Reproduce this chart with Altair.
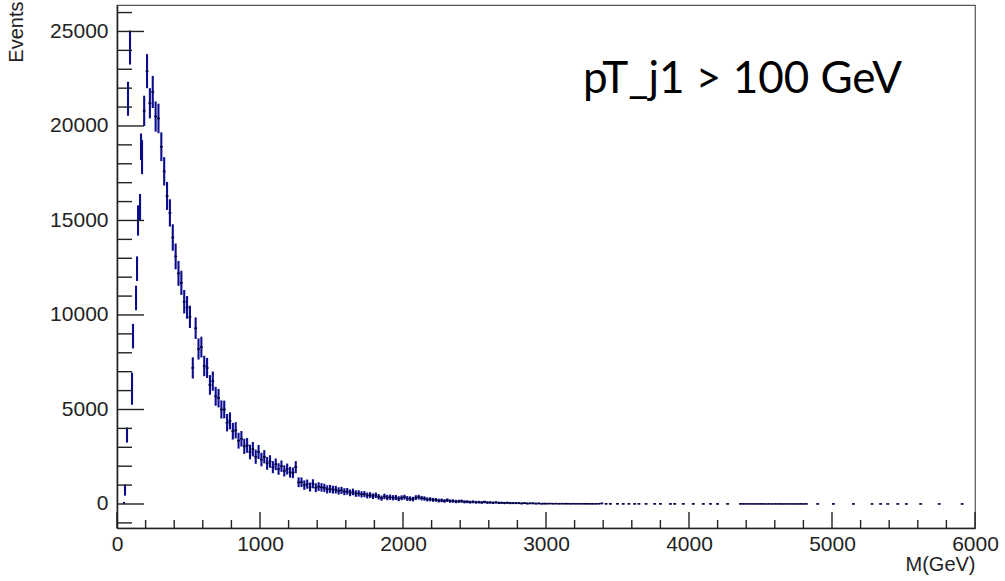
import altair as alt
import pandas as pd

# ---------------- data ----------------
# low-mass scattered bins (M in GeV, events, error)
early_m = [49, 56, 70, 77, 91, 105, 112, 133, 140, 147, 161, 168, 175]
early_v = [50, 740, 3650, 21440, 24150, 6100, 8880, 10900, 12450, 15000, 15700, 18900, 18350]
early_e = [60, 300, 400, 900, 900, 850, 650, 650, 650, 800, 700, 700, 900]

# main body, 20 GeV bins starting at 190 GeV
main_m = list(range(190, 3000, 20))
main_v = [
    20800, 22900, 21200, 21800, 20500, 20400, 18900,
    17600, 16300, 15400, 14100, 13100, 12200, 11700, 10700, 10400,
    9900, 7200, 9300, 8200, 8300, 7300, 7200, 6300, 6500, 5700,
    5600, 5000, 5000, 4300, 4400, 3850, 3900, 3350, 3450, 3050,
    3100, 2750, 2900, 2500, 2750, 2350, 2500, 2150, 2250, 1950,
    2100, 1850, 2000, 1750, 1850, 1680, 1650, 1950, 1150, 1150,
    1000, 1050, 900, 1070, 860, 920, 880, 850, 770, 800,
    760, 760, 690, 720, 650, 670, 590, 640, 550, 560,
    510, 520, 450, 470, 410, 460, 380, 310, 400, 340,
    360, 330, 340, 280, 330, 360, 290, 280, 260, 340,
    360, 310, 290, 240, 250, 220, 220, 180, 190, 160,
    200, 150, 160, 130, 140, 150, 115, 120, 95, 115,
    90, 95, 80, 105, 75, 80, 65, 85, 60, 65,
    50, 65, 45, 50, 45, 45, 30, 45, 25, 35,
    35, 20, 30, 15, 20,
]
main_e = [
    800, 900, 800, 850, 800, 780, 760,
    750, 740, 720, 700, 680, 660, 640, 620, 600,
    590, 560, 570, 560, 550, 540, 530, 520, 510, 500,
    490, 480, 470, 460, 450, 440, 430, 420, 410, 400,
    390, 385, 380, 375, 370, 360, 350, 340, 330, 320,
    310, 305, 300, 295, 290, 285, 280, 320, 260, 255,
    250, 245, 240, 240, 235, 230, 225, 220, 215, 210,
    205, 200, 195, 190, 185, 180, 178, 175, 172, 170,
    165, 160, 158, 155, 152, 150, 148, 140, 145, 142,
    140, 138, 135, 132, 130, 130, 128, 125, 122, 125,
    125, 120, 115, 110, 108, 105, 102, 100, 98, 96,
    95, 92, 90, 88, 86, 85, 82, 80, 78, 76,
    74, 72, 70, 70, 68, 66, 64, 64, 62, 60,
    58, 58, 56, 54, 54, 52, 50, 50, 48, 46,
    46, 44, 44, 42, 42,
]

# high-mass tail
tail_m = [3010, 3030, 3050, 3070, 3090, 3110, 3130, 3150, 3170, 3190,
          3210, 3230, 3250, 3270, 3290, 3310, 3330, 3350, 3370, 3390,
          3420, 3450, 3500, 3540, 3580, 3620, 3650, 3700, 3760, 3800, 3870, 3900, 3960,
          4030, 4100, 4150, 4200, 4270,
          4360, 4380, 4400, 4420, 4440, 4460, 4480, 4500, 4520, 4540, 4560, 4580,
          4600, 4620, 4640, 4660, 4680, 4700, 4720, 4740, 4760, 4780, 4800, 4820,
          4900, 5010, 5150, 5280, 5340, 5390, 5460, 5520, 5620, 5750, 5910]
tail_v = [18, 22, 15, 20, 12, 18, 14, 16, 10, 15,
          12, 14, 10, 12, 9, 11, 8, 10, 14, 30,
          8, 6, 9, 5, 7, 6, 8, 5, 6, 7, 4, 5, 6,
          5, 4, 6, 4, 5,
          6, 5, 7, 4, 6, 5, 4, 6, 5, 3, 5, 4,
          6, 4, 5, 3, 4, 5, 3, 4, 3, 4, 3, 5,
          3, 4, 3, 2, 3, 2, 3, 2, 3, 2, 2]
tail_e = [30, 32, 28, 30, 26, 30, 26, 28, 24, 28,
          26, 26, 24, 26, 22, 24, 22, 24, 26, 40,
          18, 16, 20, 14, 16, 16, 18, 14, 16, 16, 12, 14, 16,
          14, 12, 14, 12, 14,
          14, 14, 16, 12, 14, 14, 12, 14, 14, 10, 14, 12,
          14, 12, 14, 10, 12, 14, 10, 12, 10, 12, 10, 14,
          10, 12, 10, 8, 10, 8, 10, 8, 10, 8, 8]

x_major = [0, 1000, 2000, 3000, 4000, 5000, 6000]
x_minor = [v for v in range(0, 6001, 200) if v % 1000 != 0]
y_major = [0, 5000, 10000, 15000, 20000, 25000]
y_minor = [v for v in range(-1000, 26001, 1000) if v % 5000 != 0]

assert len(main_m) == len(main_v) == len(main_e)
assert len(tail_m) == len(tail_v) == len(tail_e)
assert len(early_m) == len(early_v) == len(early_e)

rows = []
for m, v, e in zip(early_m, early_v, early_e):
    rows.append(dict(m=m, v=v, lo=v - e, hi=v + e, xl=m - 3.5, xr=m + 3.5))
for m, v, e in zip(main_m, main_v, main_e):
    rows.append(dict(m=m, v=v, lo=v - e, hi=v + e, xl=m - 10, xr=m + 10))
for m, v, e in zip(tail_m, tail_v, tail_e):
    rows.append(dict(m=m, v=v, lo=v - e, hi=v + e, xl=m - 10, xr=m + 10))
df = pd.DataFrame(rows)

W, H = 858, 523
FONT = "Liberation Sans"
INK = "#222222"
BLUE = "#0c0c8e"

xs = alt.Scale(domain=[0, 6000], nice=False, zero=False)
ys = alt.Scale(domain=[-1270, 26400], nice=False, zero=False)

x_axis = alt.Axis(values=x_major, ticks=False, grid=False, labelFlush=False,
                  labelOverlap=False, labelFont=FONT, labelFontSize=21,
                  labelColor=INK, labelPadding=5, format="d",
                  domainColor=INK, domainWidth=1.6,
                  title="M(GeV)", titleFont=FONT, titleFontSize=20,
                  titleFontWeight="normal", titleColor=INK,
                  titleAnchor="end", titleAlign="right", titleBaseline="alphabetic",
                  titleX=W, titleY=42)
y_axis = alt.Axis(values=y_major, ticks=False, grid=False, labelFlush=False,
                  labelOverlap=False, labelFont=FONT, labelFontSize=21,
                  labelColor=INK, labelPadding=9, format="d",
                  domainColor=INK, domainWidth=1.6,
                  title="Events", titleFont=FONT, titleFontSize=20,
                  titleFontWeight="normal", titleColor=INK,
                  titleAlign="right", titleBaseline="bottom",
                  titleAnchor="end", titleX=-91, titleY=-4)

base = alt.Chart(df)
vbars = base.mark_rule(color=BLUE, strokeWidth=2.1).encode(
    x=alt.X("m:Q", scale=xs, axis=x_axis),
    y=alt.Y("lo:Q", scale=ys, axis=y_axis),
    y2="hi:Q",
)
hbars = base.mark_rule(color="#00003c", strokeWidth=1.6).encode(
    x=alt.X("xl:Q", scale=xs, axis=x_axis),
    x2="xr:Q",
    y=alt.Y("v:Q", scale=ys, axis=y_axis),
)

def xticks(vals, length):
    return alt.Chart(pd.DataFrame({"t": vals})).mark_rule(color=INK, strokeWidth=1.4).encode(
        x=alt.X("t:Q", scale=xs, axis=x_axis),
        y=alt.value(H), y2=alt.value(H - length))

def yticks(vals, length):
    return alt.Chart(pd.DataFrame({"t": vals})).mark_rule(color=INK, strokeWidth=1.4).encode(
        y=alt.Y("t:Q", scale=ys, axis=y_axis),
        x=alt.value(0), x2=alt.value(length))

label = alt.Chart(pd.DataFrame({"t": ["pT_j1 > 100 GeV"]})).mark_text(
    font="Lato", fontSize=44, color="#000000", align="left", baseline="alphabetic"
).encode(text="t:N", x=alt.value(466), y=alt.value(88))

chart = alt.layer(
    vbars, hbars,
    xticks(x_minor, 8), xticks(x_major, 16),
    yticks(y_minor, 15), yticks(y_major, 27),
    label,
).properties(
    width=W, height=H,
    autosize=alt.AutoSizeParams(type="none"),
    padding={"left": 117, "top": 5, "right": 30, "bottom": 53},
).configure(background="white").configure_view(stroke="#555555", strokeWidth=1.2)

chart.save("out.html", embed_options={"renderer": "svg", "actions": False})
